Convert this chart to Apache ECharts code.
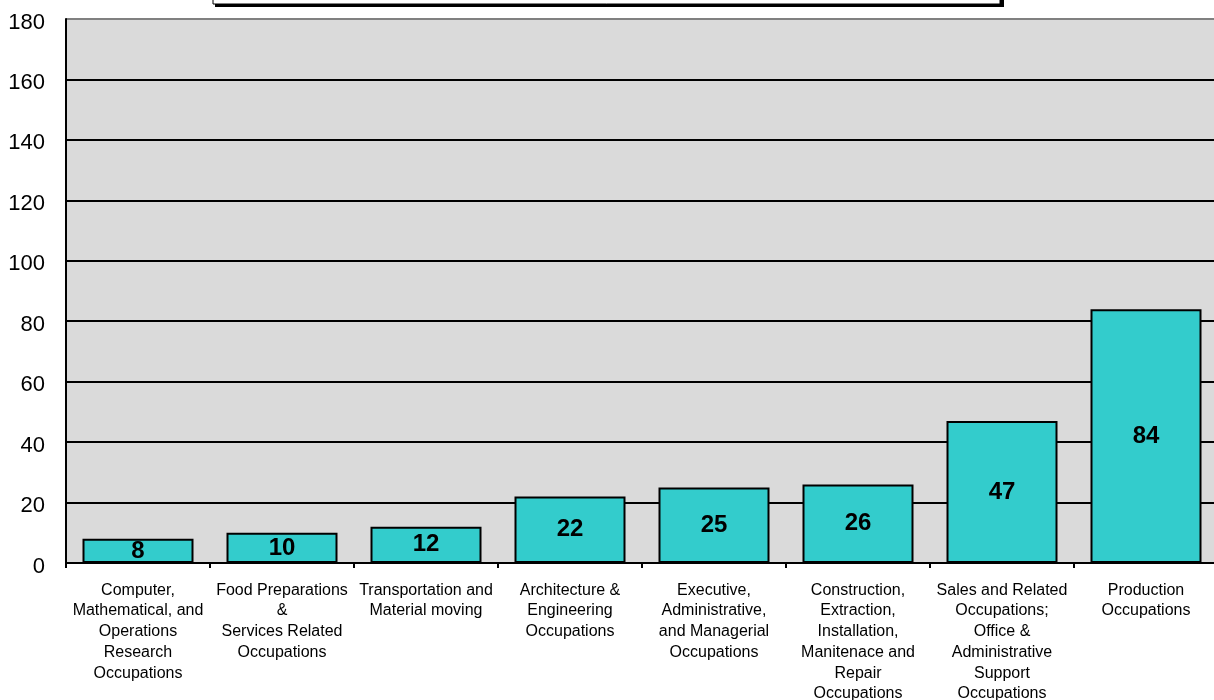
<!DOCTYPE html>
<html>
<head>
<meta charset="utf-8">
<script src="https://cdn.jsdelivr.net/npm/echarts@6/dist/echarts.min.js"></script>
<style>
html,body{margin:0;padding:0;background:#fff;}
#chart{width:1214px;height:700px;}
</style>
</head>
<body>
<div id="chart"></div>
<script>
const categories = [
  "Computer,\nMathematical, and\nOperations\nResearch\nOccupations",
  "Food Preparations\n&\nServices Related\nOccupations",
  "Transportation and\nMaterial moving",
  "Architecture &\nEngineering\nOccupations",
  "Executive,\nAdministrative,\nand Managerial\nOccupations",
  "Construction,\nExtraction,\nInstallation,\nManitenace and\nRepair\nOccupations",
  "Sales and Related\nOccupations;\nOffice &\nAdministrative\nSupport\nOccupations",
  "Production\nOccupations"
];
const values = [8, 10, 12, 22, 25, 26, 47, 84];
const yMin = 0, yMax = 180, yStep = 20;

const FONT = "'Liberation Sans', Arial, Helvetica, sans-serif";
const chart = echarts.init(document.getElementById('chart'), null, {renderer: 'canvas'});

const splitColors = [];
for (let v = yMin; v <= yMax; v += yStep) splitColors.push(v === yMax ? '#808080' : '#000000');

chart.setOption({
  backgroundColor: '#ffffff',
  animation: false,
  graphic: [
    {type: 'rect', shape: {x: 215, y: -30, width: 789, height: 37}, style: {fill: '#000'}, z: 10},
    {type: 'rect', shape: {x: 213, y: -32, width: 787, height: 36}, style: {fill: '#fff', stroke: '#000', lineWidth: 1}, z: 11}
  ],
  grid: {
    left: 66, top: 19, right: -4, bottom: 137,
    outerBoundsMode: 'none', containLabel: false,
    show: true, backgroundColor: '#dadada', borderWidth: 0
  },
  xAxis: {
    type: 'category',
    data: categories,
    axisLine: {show: true, lineStyle: {color: '#000', width: 2}},
    axisTick: {show: true, length: 5, lineStyle: {color: '#000', width: 2}},
    axisLabel: {
      interval: 0, margin: 17, fontFamily: FONT, fontSize: 16, lineHeight: 20.7,
      color: '#000', align: 'center', hideOverlap: false
    },
    splitLine: {show: false}
  },
  yAxis: {
    type: 'value',
    min: yMin, max: yMax, interval: yStep,
    axisLine: {show: true, lineStyle: {color: '#000', width: 2}},
    axisTick: {show: false},
    axisLabel: {fontFamily: FONT, fontSize: 22, color: '#000', margin: 21, verticalAlign: 'top', lineHeight: 7},
    splitLine: {show: true, lineStyle: {color: splitColors, width: 2}}
  },
  series: [{
    type: 'bar',
    data: values,
    barWidth: 111,
    itemStyle: {color: '#33cccc', borderColor: '#000', borderWidth: 2},
    label: {
      show: true, position: 'inside', fontFamily: FONT, fontWeight: 'bold',
      fontSize: 24, color: '#000'
    }
  }]
});
</script>
</body>
</html>
